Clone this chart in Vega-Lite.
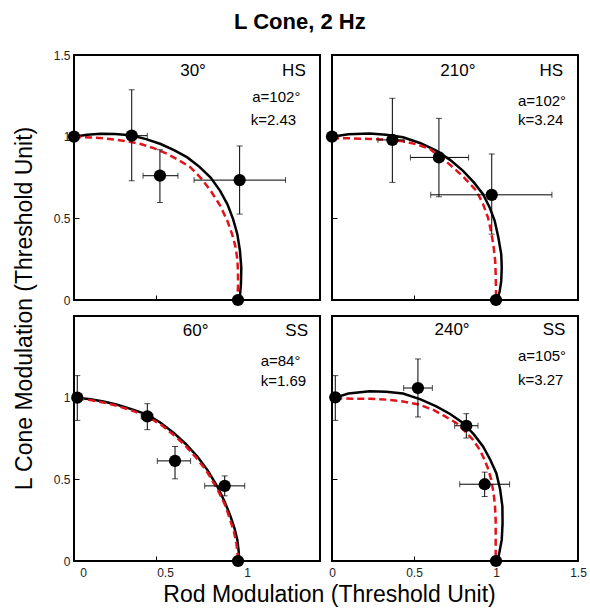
{
  "$schema": "https://vega.github.io/schema/vega-lite/v6.json",
  "padding": {"left": 12, "top": 11, "right": 5, "bottom": 3},
  "title": {"text": "L Cone, 2 Hz", "fontSize": 22, "fontWeight": "bold", "anchor": "middle", "frame": "bounds", "offset": 14, "font": "Liberation Sans", "color": "black"},
  "data": {"values": [
    {"panel":"TL","type":"solid","i":0,"x":0.0,"y":1.0},
    {"panel":"TL","type":"solid","i":1,"x":0.08,"y":1.012},
    {"panel":"TL","type":"solid","i":2,"x":0.163,"y":1.018},
    {"panel":"TL","type":"solid","i":3,"x":0.25,"y":1.017},
    {"panel":"TL","type":"solid","i":4,"x":0.345,"y":1.008},
    {"panel":"TL","type":"solid","i":5,"x":0.44,"y":0.985},
    {"panel":"TL","type":"solid","i":6,"x":0.528,"y":0.955},
    {"panel":"TL","type":"solid","i":7,"x":0.61,"y":0.918},
    {"panel":"TL","type":"solid","i":8,"x":0.691,"y":0.873},
    {"panel":"TL","type":"solid","i":9,"x":0.765,"y":0.815},
    {"panel":"TL","type":"solid","i":10,"x":0.833,"y":0.75},
    {"panel":"TL","type":"solid","i":11,"x":0.89,"y":0.67},
    {"panel":"TL","type":"solid","i":12,"x":0.935,"y":0.587},
    {"panel":"TL","type":"solid","i":13,"x":0.97,"y":0.495},
    {"panel":"TL","type":"solid","i":14,"x":0.996,"y":0.403},
    {"panel":"TL","type":"solid","i":15,"x":1.012,"y":0.3},
    {"panel":"TL","type":"solid","i":16,"x":1.02,"y":0.198},
    {"panel":"TL","type":"solid","i":17,"x":1.018,"y":0.1},
    {"panel":"TL","type":"solid","i":18,"x":1.01,"y":0.0},
    {"panel":"TL","type":"dash","i":0,"x":0.0,"y":1.0},
    {"panel":"TL","type":"dash","i":1,"x":0.1,"y":0.995},
    {"panel":"TL","type":"dash","i":2,"x":0.2,"y":0.988},
    {"panel":"TL","type":"dash","i":3,"x":0.264,"y":0.98},
    {"panel":"TL","type":"dash","i":4,"x":0.335,"y":0.97},
    {"panel":"TL","type":"dash","i":5,"x":0.407,"y":0.955},
    {"panel":"TL","type":"dash","i":6,"x":0.49,"y":0.928},
    {"panel":"TL","type":"dash","i":7,"x":0.569,"y":0.894},
    {"panel":"TL","type":"dash","i":8,"x":0.64,"y":0.855},
    {"panel":"TL","type":"dash","i":9,"x":0.711,"y":0.812},
    {"panel":"TL","type":"dash","i":10,"x":0.775,"y":0.745},
    {"panel":"TL","type":"dash","i":11,"x":0.833,"y":0.669},
    {"panel":"TL","type":"dash","i":12,"x":0.89,"y":0.58},
    {"panel":"TL","type":"dash","i":13,"x":0.935,"y":0.485},
    {"panel":"TL","type":"dash","i":14,"x":0.965,"y":0.4},
    {"panel":"TL","type":"dash","i":15,"x":0.986,"y":0.321},
    {"panel":"TL","type":"dash","i":16,"x":0.997,"y":0.24},
    {"panel":"TL","type":"dash","i":17,"x":1.0,"y":0.157},
    {"panel":"TL","type":"dash","i":18,"x":1.0,"y":0.08},
    {"panel":"TL","type":"dash","i":19,"x":0.995,"y":0.0},
    {"panel":"TR","type":"solid","i":0,"x":0.0,"y":1.0},
    {"panel":"TR","type":"solid","i":1,"x":0.1,"y":1.015},
    {"panel":"TR","type":"solid","i":2,"x":0.23,"y":1.02},
    {"panel":"TR","type":"solid","i":3,"x":0.33,"y":1.012},
    {"panel":"TR","type":"solid","i":4,"x":0.433,"y":0.996},
    {"panel":"TR","type":"solid","i":5,"x":0.54,"y":0.96},
    {"panel":"TR","type":"solid","i":6,"x":0.636,"y":0.914},
    {"panel":"TR","type":"solid","i":7,"x":0.72,"y":0.858},
    {"panel":"TR","type":"solid","i":8,"x":0.799,"y":0.791},
    {"panel":"TR","type":"solid","i":9,"x":0.865,"y":0.72},
    {"panel":"TR","type":"solid","i":10,"x":0.921,"y":0.648},
    {"panel":"TR","type":"solid","i":11,"x":0.962,"y":0.565},
    {"panel":"TR","type":"solid","i":12,"x":0.992,"y":0.485},
    {"panel":"TR","type":"solid","i":13,"x":1.015,"y":0.38},
    {"panel":"TR","type":"solid","i":14,"x":1.032,"y":0.28},
    {"panel":"TR","type":"solid","i":15,"x":1.035,"y":0.2},
    {"panel":"TR","type":"solid","i":16,"x":1.032,"y":0.117},
    {"panel":"TR","type":"solid","i":17,"x":1.022,"y":0.05},
    {"panel":"TR","type":"solid","i":18,"x":1.006,"y":0.0},
    {"panel":"TR","type":"dash","i":0,"x":0.0,"y":0.99},
    {"panel":"TR","type":"dash","i":1,"x":0.1,"y":0.99},
    {"panel":"TR","type":"dash","i":2,"x":0.23,"y":0.986},
    {"panel":"TR","type":"dash","i":3,"x":0.33,"y":0.982},
    {"panel":"TR","type":"dash","i":4,"x":0.433,"y":0.972},
    {"panel":"TR","type":"dash","i":5,"x":0.52,"y":0.952},
    {"panel":"TR","type":"dash","i":6,"x":0.596,"y":0.924},
    {"panel":"TR","type":"dash","i":7,"x":0.67,"y":0.87},
    {"panel":"TR","type":"dash","i":8,"x":0.738,"y":0.812},
    {"panel":"TR","type":"dash","i":9,"x":0.81,"y":0.745},
    {"panel":"TR","type":"dash","i":10,"x":0.88,"y":0.669},
    {"panel":"TR","type":"dash","i":11,"x":0.92,"y":0.59},
    {"panel":"TR","type":"dash","i":12,"x":0.951,"y":0.505},
    {"panel":"TR","type":"dash","i":13,"x":0.972,"y":0.41},
    {"panel":"TR","type":"dash","i":14,"x":0.986,"y":0.321},
    {"panel":"TR","type":"dash","i":15,"x":0.995,"y":0.24},
    {"panel":"TR","type":"dash","i":16,"x":0.998,"y":0.157},
    {"panel":"TR","type":"dash","i":17,"x":1.0,"y":0.055},
    {"panel":"TR","type":"dash","i":18,"x":1.0,"y":0.0},
    {"panel":"BL","type":"solid","i":0,"x":0.02,"y":1.0},
    {"panel":"BL","type":"solid","i":1,"x":0.1,"y":0.99},
    {"panel":"BL","type":"solid","i":2,"x":0.18,"y":0.976},
    {"panel":"BL","type":"solid","i":3,"x":0.264,"y":0.957},
    {"panel":"BL","type":"solid","i":4,"x":0.35,"y":0.93},
    {"panel":"BL","type":"solid","i":5,"x":0.447,"y":0.896},
    {"panel":"BL","type":"solid","i":6,"x":0.53,"y":0.845},
    {"panel":"BL","type":"solid","i":7,"x":0.61,"y":0.783},
    {"panel":"BL","type":"solid","i":8,"x":0.68,"y":0.718},
    {"panel":"BL","type":"solid","i":9,"x":0.752,"y":0.64},
    {"panel":"BL","type":"solid","i":10,"x":0.815,"y":0.555},
    {"panel":"BL","type":"solid","i":11,"x":0.874,"y":0.456},
    {"panel":"BL","type":"solid","i":12,"x":0.918,"y":0.365},
    {"panel":"BL","type":"solid","i":13,"x":0.955,"y":0.272},
    {"panel":"BL","type":"solid","i":14,"x":0.98,"y":0.195},
    {"panel":"BL","type":"solid","i":15,"x":0.996,"y":0.129},
    {"panel":"BL","type":"solid","i":16,"x":1.004,"y":0.06},
    {"panel":"BL","type":"solid","i":17,"x":1.006,"y":0.0},
    {"panel":"BL","type":"dash","i":0,"x":0.02,"y":0.995},
    {"panel":"BL","type":"dash","i":1,"x":0.1,"y":0.985},
    {"panel":"BL","type":"dash","i":2,"x":0.18,"y":0.97},
    {"panel":"BL","type":"dash","i":3,"x":0.264,"y":0.95},
    {"panel":"BL","type":"dash","i":4,"x":0.35,"y":0.922},
    {"panel":"BL","type":"dash","i":5,"x":0.447,"y":0.885},
    {"panel":"BL","type":"dash","i":6,"x":0.53,"y":0.835},
    {"panel":"BL","type":"dash","i":7,"x":0.61,"y":0.77},
    {"panel":"BL","type":"dash","i":8,"x":0.68,"y":0.705},
    {"panel":"BL","type":"dash","i":9,"x":0.752,"y":0.625},
    {"panel":"BL","type":"dash","i":10,"x":0.815,"y":0.54},
    {"panel":"BL","type":"dash","i":11,"x":0.874,"y":0.44},
    {"panel":"BL","type":"dash","i":12,"x":0.918,"y":0.35},
    {"panel":"BL","type":"dash","i":13,"x":0.95,"y":0.26},
    {"panel":"BL","type":"dash","i":14,"x":0.975,"y":0.18},
    {"panel":"BL","type":"dash","i":15,"x":0.99,"y":0.11},
    {"panel":"BL","type":"dash","i":16,"x":0.997,"y":0.05},
    {"panel":"BL","type":"dash","i":17,"x":1.0,"y":0.0},
    {"panel":"BR","type":"solid","i":0,"x":0.02,"y":1.0},
    {"panel":"BR","type":"solid","i":1,"x":0.1,"y":1.025},
    {"panel":"BR","type":"solid","i":2,"x":0.23,"y":1.039},
    {"panel":"BR","type":"solid","i":3,"x":0.33,"y":1.036},
    {"panel":"BR","type":"solid","i":4,"x":0.433,"y":1.025},
    {"panel":"BR","type":"solid","i":5,"x":0.54,"y":0.99},
    {"panel":"BR","type":"solid","i":6,"x":0.636,"y":0.947},
    {"panel":"BR","type":"solid","i":7,"x":0.72,"y":0.9},
    {"panel":"BR","type":"solid","i":8,"x":0.799,"y":0.845},
    {"panel":"BR","type":"solid","i":9,"x":0.865,"y":0.775},
    {"panel":"BR","type":"solid","i":10,"x":0.921,"y":0.701},
    {"panel":"BR","type":"solid","i":11,"x":0.965,"y":0.62},
    {"panel":"BR","type":"solid","i":12,"x":1.002,"y":0.538},
    {"panel":"BR","type":"solid","i":13,"x":1.025,"y":0.44},
    {"panel":"BR","type":"solid","i":14,"x":1.039,"y":0.333},
    {"panel":"BR","type":"solid","i":15,"x":1.04,"y":0.23},
    {"panel":"BR","type":"solid","i":16,"x":1.035,"y":0.129},
    {"panel":"BR","type":"solid","i":17,"x":1.022,"y":0.06},
    {"panel":"BR","type":"solid","i":18,"x":1.01,"y":0.0},
    {"panel":"BR","type":"dash","i":0,"x":0.02,"y":0.995},
    {"panel":"BR","type":"dash","i":1,"x":0.13,"y":0.994},
    {"panel":"BR","type":"dash","i":2,"x":0.23,"y":0.994},
    {"panel":"BR","type":"dash","i":3,"x":0.33,"y":0.988},
    {"panel":"BR","type":"dash","i":4,"x":0.433,"y":0.977},
    {"panel":"BR","type":"dash","i":5,"x":0.53,"y":0.958},
    {"panel":"BR","type":"dash","i":6,"x":0.616,"y":0.926},
    {"panel":"BR","type":"dash","i":7,"x":0.69,"y":0.885},
    {"panel":"BR","type":"dash","i":8,"x":0.758,"y":0.845},
    {"panel":"BR","type":"dash","i":9,"x":0.81,"y":0.795},
    {"panel":"BR","type":"dash","i":10,"x":0.86,"y":0.742},
    {"panel":"BR","type":"dash","i":11,"x":0.895,"y":0.69},
    {"panel":"BR","type":"dash","i":12,"x":0.921,"y":0.64},
    {"panel":"BR","type":"dash","i":13,"x":0.95,"y":0.57},
    {"panel":"BR","type":"dash","i":14,"x":0.971,"y":0.497},
    {"panel":"BR","type":"dash","i":15,"x":0.986,"y":0.41},
    {"panel":"BR","type":"dash","i":16,"x":0.994,"y":0.333},
    {"panel":"BR","type":"dash","i":17,"x":0.998,"y":0.25},
    {"panel":"BR","type":"dash","i":18,"x":0.998,"y":0.17},
    {"panel":"BR","type":"dash","i":19,"x":0.998,"y":0.0},
    {"panel":"TL","type":"pt","x":0.0,"y":1.0},
    {"panel":"TL","type":"pt","x":0.352,"y":1.006,"xlo":0.33,"xhi":0.447,"ylo":0.73,"yhi":1.287},
    {"panel":"TL","type":"pt","x":0.524,"y":0.761,"xlo":0.421,"xhi":0.634,"ylo":0.597,"yhi":0.92},
    {"panel":"TL","type":"pt","x":1.01,"y":0.734,"xlo":0.732,"xhi":1.29,"ylo":0.526,"yhi":0.943},
    {"panel":"TL","type":"pt","x":1.0,"y":0.0},
    {"panel":"TR","type":"pt","x":0.0,"y":1.0},
    {"panel":"TR","type":"pt","x":0.368,"y":0.98,"xlo":0.28,"xhi":0.44,"ylo":0.72,"yhi":1.235},
    {"panel":"TR","type":"pt","x":0.652,"y":0.873,"xlo":0.478,"xhi":0.833,"ylo":0.632,"yhi":1.112},
    {"panel":"TR","type":"pt","x":0.974,"y":0.644,"xlo":0.602,"xhi":1.341,"ylo":0.403,"yhi":0.894},
    {"panel":"TR","type":"pt","x":1.0,"y":0.0},
    {"panel":"BL","type":"pt","x":0.02,"y":1.0,"ylo":0.861,"yhi":1.135},
    {"panel":"BL","type":"pt","x":0.447,"y":0.885,"xlo":0.41,"xhi":0.48,"ylo":0.804,"yhi":0.963},
    {"panel":"BL","type":"pt","x":0.616,"y":0.613,"xlo":0.508,"xhi":0.711,"ylo":0.503,"yhi":0.701},
    {"panel":"BL","type":"pt","x":0.919,"y":0.46,"xlo":0.797,"xhi":1.041,"ylo":0.399,"yhi":0.521},
    {"panel":"BL","type":"pt","x":1.0,"y":0.0},
    {"panel":"BR","type":"pt","x":0.02,"y":1.002,"ylo":0.861,"yhi":1.135},
    {"panel":"BR","type":"pt","x":0.524,"y":1.059,"xlo":0.437,"xhi":0.612,"ylo":0.882,"yhi":1.237},
    {"panel":"BR","type":"pt","x":0.819,"y":0.828,"xlo":0.748,"xhi":0.89,"ylo":0.753,"yhi":0.902},
    {"panel":"BR","type":"pt","x":0.931,"y":0.47,"xlo":0.779,"xhi":1.083,"ylo":0.395,"yhi":0.544},
    {"panel":"BR","type":"pt","x":1.0,"y":0.0},
    {"panel":"TL","type":"angle","x":0.726,"y":1.405,"text":"30°"},
    {"panel":"TR","type":"angle","x":0.768,"y":1.405,"text":"210°"},
    {"panel":"BL","type":"angle","x":0.742,"y":1.407,"text":"60°"},
    {"panel":"BR","type":"angle","x":0.732,"y":1.415,"text":"240°"},
    {"panel":"TL","type":"subj","x":1.413,"y":1.405,"text":"HS"},
    {"panel":"TR","type":"subj","x":1.409,"y":1.405,"text":"HS"},
    {"panel":"BL","type":"subj","x":1.427,"y":1.407,"text":"SS"},
    {"panel":"BR","type":"subj","x":1.423,"y":1.415,"text":"SS"},
    {"panel":"TL","type":"param","x":1.087,"y":1.241,"text":"a=102°"},
    {"panel":"TL","type":"param","x":1.077,"y":1.104,"text":"k=2.43"},
    {"panel":"TR","type":"param","x":1.134,"y":1.221,"text":"a=102°"},
    {"panel":"TR","type":"param","x":1.134,"y":1.102,"text":"k=3.24"},
    {"panel":"BL","type":"param","x":1.138,"y":1.223,"text":"a=84°"},
    {"panel":"BL","type":"param","x":1.138,"y":1.1,"text":"k=1.69"},
    {"panel":"BR","type":"param","x":1.134,"y":1.253,"text":"a=105°"},
    {"panel":"BR","type":"param","x":1.134,"y":1.11,"text":"k=3.27"}
  ]},
  "concat": [
      {"width": 246, "height": 245, "layer": [
        {"transform": [{"filter": "datum.panel=='TL' && datum.type=='solid'"}], "mark": {"type": "line", "color": "black", "strokeWidth": 2.5},
         "encoding": {"x": {"field": "x", "type": "quantitative", "scale": {"domain": [0, 1.5], "nice": false, "zero": false}, "axis": {"values": [0, 0.5, 1, 1.5], "labels": false, "title": null}},
                      "y": {"field": "y", "type": "quantitative", "scale": {"domain": [0, 1.5], "nice": false, "zero": false}, "axis": {"values": [0, 0.5, 1, 1.5], "title": "L Cone Modulation (Threshold Unit)", "titleY": 253}},
                      "order": {"field": "i"}}},
        {"transform": [{"filter": "datum.panel=='TL' && datum.type=='dash'"}], "mark": {"type": "line", "color": "#e3121b", "strokeWidth": 2.5, "strokeDash": [7, 4]},
         "encoding": {"x": {"field": "x", "type": "quantitative"}, "y": {"field": "y", "type": "quantitative"}, "order": {"field": "i"}}},
        {"transform": [{"filter": "datum.panel=='TL' && datum.type=='pt' && isValid(datum.ylo)"}], "mark": {"type": "errorbar", "color": "black", "thickness": 1, "ticks": {"size": 6}},
         "encoding": {"x": {"field": "x", "type": "quantitative"}, "y": {"field": "ylo", "type": "quantitative", "title": "L Cone Modulation (Threshold Unit)"}, "y2": {"field": "yhi"}}},
        {"transform": [{"filter": "datum.panel=='TL' && datum.type=='pt' && isValid(datum.xlo)"}], "mark": {"type": "errorbar", "color": "black", "thickness": 1, "ticks": {"size": 6}},
         "encoding": {"y": {"field": "y", "type": "quantitative"}, "x": {"field": "xlo", "type": "quantitative", "title": null}, "x2": {"field": "xhi"}}},
        {"transform": [{"filter": "datum.panel=='TL' && datum.type=='pt'"}], "mark": {"type": "circle", "size": 150, "color": "black", "opacity": 1},
         "encoding": {"x": {"field": "x", "type": "quantitative"}, "y": {"field": "y", "type": "quantitative"}}},
        {"transform": [{"filter": "datum.panel=='TL' && datum.type=='angle'"}], "mark": {"type": "text", "fontSize": 17, "align": "center", "baseline": "middle", "color": "black"},
         "encoding": {"x": {"field": "x", "type": "quantitative"}, "y": {"field": "y", "type": "quantitative"}, "text": {"field": "text"}}},
        {"transform": [{"filter": "datum.panel=='TL' && datum.type=='subj'"}], "mark": {"type": "text", "fontSize": 17, "align": "right", "baseline": "middle", "color": "black"},
         "encoding": {"x": {"field": "x", "type": "quantitative"}, "y": {"field": "y", "type": "quantitative"}, "text": {"field": "text"}}},
        {"transform": [{"filter": "datum.panel=='TL' && datum.type=='param'"}], "mark": {"type": "text", "fontSize": 15, "align": "left", "baseline": "middle", "color": "black"},
         "encoding": {"x": {"field": "x", "type": "quantitative"}, "y": {"field": "y", "type": "quantitative"}, "text": {"field": "text"}}}
      ]},
      {"width": 246, "height": 245, "layer": [
        {"transform": [{"filter": "datum.panel=='TR' && datum.type=='solid'"}], "mark": {"type": "line", "color": "black", "strokeWidth": 2.5},
         "encoding": {"x": {"field": "x", "type": "quantitative", "scale": {"domain": [0, 1.5], "nice": false, "zero": false}, "axis": {"values": [0, 0.5, 1, 1.5], "labels": false, "title": null}},
                      "y": {"field": "y", "type": "quantitative", "scale": {"domain": [0, 1.5], "nice": false, "zero": false}, "axis": {"values": [0, 0.5, 1, 1.5], "labels": false, "title": null}},
                      "order": {"field": "i"}}},
        {"transform": [{"filter": "datum.panel=='TR' && datum.type=='dash'"}], "mark": {"type": "line", "color": "#e3121b", "strokeWidth": 2.5, "strokeDash": [7, 4]},
         "encoding": {"x": {"field": "x", "type": "quantitative"}, "y": {"field": "y", "type": "quantitative"}, "order": {"field": "i"}}},
        {"transform": [{"filter": "datum.panel=='TR' && datum.type=='pt' && isValid(datum.ylo)"}], "mark": {"type": "errorbar", "color": "black", "thickness": 1, "ticks": {"size": 6}},
         "encoding": {"x": {"field": "x", "type": "quantitative"}, "y": {"field": "ylo", "type": "quantitative", "title": null}, "y2": {"field": "yhi"}}},
        {"transform": [{"filter": "datum.panel=='TR' && datum.type=='pt' && isValid(datum.xlo)"}], "mark": {"type": "errorbar", "color": "black", "thickness": 1, "ticks": {"size": 6}},
         "encoding": {"y": {"field": "y", "type": "quantitative"}, "x": {"field": "xlo", "type": "quantitative", "title": null}, "x2": {"field": "xhi"}}},
        {"transform": [{"filter": "datum.panel=='TR' && datum.type=='pt'"}], "mark": {"type": "circle", "size": 150, "color": "black", "opacity": 1},
         "encoding": {"x": {"field": "x", "type": "quantitative"}, "y": {"field": "y", "type": "quantitative"}}},
        {"transform": [{"filter": "datum.panel=='TR' && datum.type=='angle'"}], "mark": {"type": "text", "fontSize": 17, "align": "center", "baseline": "middle", "color": "black"},
         "encoding": {"x": {"field": "x", "type": "quantitative"}, "y": {"field": "y", "type": "quantitative"}, "text": {"field": "text"}}},
        {"transform": [{"filter": "datum.panel=='TR' && datum.type=='subj'"}], "mark": {"type": "text", "fontSize": 17, "align": "right", "baseline": "middle", "color": "black"},
         "encoding": {"x": {"field": "x", "type": "quantitative"}, "y": {"field": "y", "type": "quantitative"}, "text": {"field": "text"}}},
        {"transform": [{"filter": "datum.panel=='TR' && datum.type=='param'"}], "mark": {"type": "text", "fontSize": 15, "align": "left", "baseline": "middle", "color": "black"},
         "encoding": {"x": {"field": "x", "type": "quantitative"}, "y": {"field": "y", "type": "quantitative"}, "text": {"field": "text"}}}
      ]},
      {"width": 246, "height": 245, "layer": [
        {"transform": [{"filter": "datum.panel=='BL' && datum.type=='solid'"}], "mark": {"type": "line", "color": "black", "strokeWidth": 2.5},
         "encoding": {"x": {"field": "x", "type": "quantitative", "scale": {"domain": [0, 1.5], "nice": false, "zero": false}, "axis": {"values": [0, 0.5, 1], "labelOffset": 9, "title": "Rod Modulation (Threshold  Unit)", "titleX": 255}},
                      "y": {"field": "y", "type": "quantitative", "scale": {"domain": [0, 1.5], "nice": false, "zero": false}, "axis": {"values": [0, 0.5, 1], "title": null}},
                      "order": {"field": "i"}}},
        {"transform": [{"filter": "datum.panel=='BL' && datum.type=='dash'"}], "mark": {"type": "line", "color": "#e3121b", "strokeWidth": 2.5, "strokeDash": [7, 4]},
         "encoding": {"x": {"field": "x", "type": "quantitative"}, "y": {"field": "y", "type": "quantitative"}, "order": {"field": "i"}}},
        {"transform": [{"filter": "datum.panel=='BL' && datum.type=='pt' && isValid(datum.ylo)"}], "mark": {"type": "errorbar", "color": "black", "thickness": 1, "ticks": {"size": 6}},
         "encoding": {"x": {"field": "x", "type": "quantitative"}, "y": {"field": "ylo", "type": "quantitative", "title": null}, "y2": {"field": "yhi"}}},
        {"transform": [{"filter": "datum.panel=='BL' && datum.type=='pt' && isValid(datum.xlo)"}], "mark": {"type": "errorbar", "color": "black", "thickness": 1, "ticks": {"size": 6}},
         "encoding": {"y": {"field": "y", "type": "quantitative"}, "x": {"field": "xlo", "type": "quantitative", "title": "Rod Modulation (Threshold  Unit)"}, "x2": {"field": "xhi"}}},
        {"transform": [{"filter": "datum.panel=='BL' && datum.type=='pt'"}], "mark": {"type": "circle", "size": 150, "color": "black", "opacity": 1},
         "encoding": {"x": {"field": "x", "type": "quantitative"}, "y": {"field": "y", "type": "quantitative"}}},
        {"transform": [{"filter": "datum.panel=='BL' && datum.type=='angle'"}], "mark": {"type": "text", "fontSize": 17, "align": "center", "baseline": "middle", "color": "black"},
         "encoding": {"x": {"field": "x", "type": "quantitative"}, "y": {"field": "y", "type": "quantitative"}, "text": {"field": "text"}}},
        {"transform": [{"filter": "datum.panel=='BL' && datum.type=='subj'"}], "mark": {"type": "text", "fontSize": 17, "align": "right", "baseline": "middle", "color": "black"},
         "encoding": {"x": {"field": "x", "type": "quantitative"}, "y": {"field": "y", "type": "quantitative"}, "text": {"field": "text"}}},
        {"transform": [{"filter": "datum.panel=='BL' && datum.type=='param'"}], "mark": {"type": "text", "fontSize": 15, "align": "left", "baseline": "middle", "color": "black"},
         "encoding": {"x": {"field": "x", "type": "quantitative"}, "y": {"field": "y", "type": "quantitative"}, "text": {"field": "text"}}}
      ]},
      {"width": 246, "height": 245, "layer": [
        {"transform": [{"filter": "datum.panel=='BR' && datum.type=='solid'"}], "mark": {"type": "line", "color": "black", "strokeWidth": 2.5},
         "encoding": {"x": {"field": "x", "type": "quantitative", "scale": {"domain": [0, 1.5], "nice": false, "zero": false}, "axis": {"values": [0, 0.5, 1, 1.5], "title": null}},
                      "y": {"field": "y", "type": "quantitative", "scale": {"domain": [0, 1.5], "nice": false, "zero": false}, "axis": {"values": [0, 0.5, 1, 1.5], "labels": false, "title": null}},
                      "order": {"field": "i"}}},
        {"transform": [{"filter": "datum.panel=='BR' && datum.type=='dash'"}], "mark": {"type": "line", "color": "#e3121b", "strokeWidth": 2.5, "strokeDash": [7, 4]},
         "encoding": {"x": {"field": "x", "type": "quantitative"}, "y": {"field": "y", "type": "quantitative"}, "order": {"field": "i"}}},
        {"transform": [{"filter": "datum.panel=='BR' && datum.type=='pt' && isValid(datum.ylo)"}], "mark": {"type": "errorbar", "color": "black", "thickness": 1, "ticks": {"size": 6}},
         "encoding": {"x": {"field": "x", "type": "quantitative"}, "y": {"field": "ylo", "type": "quantitative", "title": null}, "y2": {"field": "yhi"}}},
        {"transform": [{"filter": "datum.panel=='BR' && datum.type=='pt' && isValid(datum.xlo)"}], "mark": {"type": "errorbar", "color": "black", "thickness": 1, "ticks": {"size": 6}},
         "encoding": {"y": {"field": "y", "type": "quantitative"}, "x": {"field": "xlo", "type": "quantitative", "title": null}, "x2": {"field": "xhi"}}},
        {"transform": [{"filter": "datum.panel=='BR' && datum.type=='pt'"}], "mark": {"type": "circle", "size": 150, "color": "black", "opacity": 1},
         "encoding": {"x": {"field": "x", "type": "quantitative"}, "y": {"field": "y", "type": "quantitative"}}},
        {"transform": [{"filter": "datum.panel=='BR' && datum.type=='angle'"}], "mark": {"type": "text", "fontSize": 17, "align": "center", "baseline": "middle", "color": "black"},
         "encoding": {"x": {"field": "x", "type": "quantitative"}, "y": {"field": "y", "type": "quantitative"}, "text": {"field": "text"}}},
        {"transform": [{"filter": "datum.panel=='BR' && datum.type=='subj'"}], "mark": {"type": "text", "fontSize": 17, "align": "right", "baseline": "middle", "color": "black"},
         "encoding": {"x": {"field": "x", "type": "quantitative"}, "y": {"field": "y", "type": "quantitative"}, "text": {"field": "text"}}},
        {"transform": [{"filter": "datum.panel=='BR' && datum.type=='param'"}], "mark": {"type": "text", "fontSize": 15, "align": "left", "baseline": "middle", "color": "black"},
         "encoding": {"x": {"field": "x", "type": "quantitative"}, "y": {"field": "y", "type": "quantitative"}, "text": {"field": "text"}}}
      ]}
  ],
  "columns": 2,
  "spacing": {"row": 16, "column": 12},
  "bounds": "flush",
  "config": {
    "font": "Liberation Sans",
    "view": {"stroke": "black", "strokeWidth": 2},
    "axis": {"domain": false, "grid": false, "tickSize": -5, "tickColor": "black", "tickWidth": 1, "format": "~g", "labelFontSize": 12, "labelColor": "#222", "labelFlush": false, "labelOverlap": false, "labelPadding": 9, "titleFontSize": 23, "titleFontWeight": "normal", "titleColor": "black", "titlePadding": 17},
    "axisX": {"labelPadding": 11, "titlePadding": 5},
    "text": {"font": "Liberation Sans"}
  }
}
